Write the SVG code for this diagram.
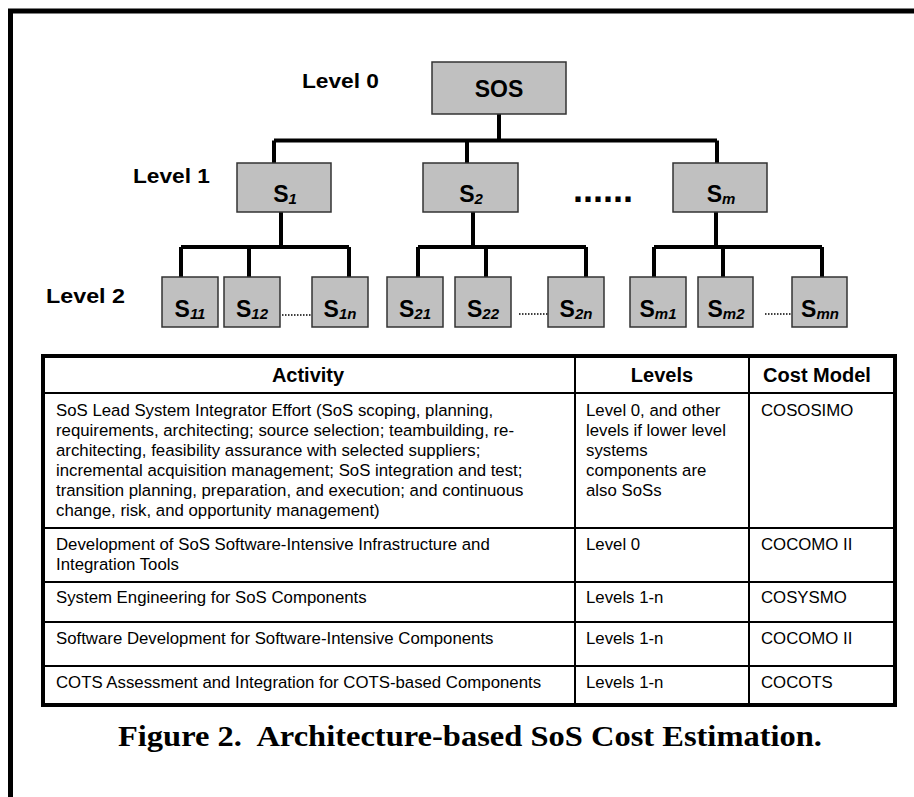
<svg xmlns="http://www.w3.org/2000/svg" width="914" height="797" viewBox="0 0 914 797">
  <style>
    .frame { fill: none; stroke: #000; stroke-width: 5; }
    .box { fill: #c0c0c0; stroke: #333; stroke-width: 1.5; }
    .wire { fill: none; stroke: #000; stroke-width: 4; stroke-linecap: butt; }
    .dots { fill: none; stroke: #000; stroke-width: 1.5; stroke-dasharray: 1.5 1.5; }
    .lvl { font-family: "Liberation Sans", Arial, sans-serif; font-weight: bold; font-size: 20px; fill: #000; }
    .node { font-family: "Liberation Sans", Arial, sans-serif; font-weight: bold; font-size: 23px; fill: #000; text-anchor: middle; }
    .sub { font-style: italic; font-size: 15px; }
    .grid { fill: none; stroke: #000; stroke-width: 2; }
    .outer { fill: none; stroke: #000; stroke-width: 4; }
    .th { font-family: "Liberation Sans", Arial, sans-serif; font-weight: bold; font-size: 20px; fill: #000; text-anchor: middle; }
    .td { font-family: "Liberation Sans", Arial, sans-serif; font-size: 16.8px; fill: #000; }
    .cap { font-family: "Liberation Serif", "Times New Roman", serif; font-weight: bold; font-size: 29px; fill: #000; }
  </style>

  <rect width="914" height="797" fill="#fff"/>
  <path class="frame" d="M10.5 797 V11 H914"/>

  <!-- level labels -->
  <text class="lvl" x="302" y="88" textLength="77" lengthAdjust="spacingAndGlyphs">Level 0</text>
  <text class="lvl" x="133" y="183" textLength="77" lengthAdjust="spacingAndGlyphs">Level 1</text>
  <text class="lvl" x="46" y="303" textLength="79" lengthAdjust="spacingAndGlyphs">Level 2</text>

  <!-- tree connectors -->
  <g id="connectors">
    <path class="wire" d="M499 114 V140.5 M274 140.5 H717 M274 140.5 V163 M467 140.5 V163 M717 140.5 V163"/>
    <path class="wire" d="M281 212 V247 M181 247 H349 M181 247 V277 M249 247 V277 M349 247 V277"/>
    <path class="wire" d="M473 212 V247 M418 247 H586 M418 247 V277 M486 247 V277 M586 247 V277"/>
    <path class="wire" d="M716 212 V247 M654 247 H822 M654 247 V277 M723 247 V277 M822 247 V277"/>
    <path class="dots" d="M282 315 H312 M519 314 H548 M765 314 H792"/>
  </g>

  <!-- level 0 -->
  <g id="sos">
    <rect class="box" x="432" y="62" width="134" height="52"/>
    <text class="node" x="499" y="97" font-size="26">SOS</text>
  </g>

  <!-- level 1 -->
  <g id="s1">
    <rect class="box" x="237" y="163" width="94" height="49"/>
    <text class="node" x="285" y="202">S<tspan class="sub" font-size="16" dy="2">1</tspan></text>
  </g>
  <g id="s2">
    <rect class="box" x="423" y="163" width="95" height="49"/>
    <text class="node" x="471" y="202">S<tspan class="sub" font-size="16" dy="2">2</tspan></text>
  </g>
  <text x="573" y="202" font-family="Liberation Sans, Arial, sans-serif" font-weight="bold" font-size="36">......</text>
  <g id="sm">
    <rect class="box" x="673" y="163" width="94" height="49"/>
    <text class="node" x="721" y="202">S<tspan class="sub" font-size="16" dy="2">m</tspan></text>
  </g>

  <!-- level 2 -->
  <g id="s11">
    <rect class="box" x="162" y="277" width="56" height="50"/>
    <text class="node" x="190" y="317">S<tspan class="sub" dy="2">11</tspan></text>
  </g>
  <g id="s12">
    <rect class="box" x="224" y="277" width="56" height="50"/>
    <text class="node" x="252" y="317">S<tspan class="sub" dy="2">12</tspan></text>
  </g>
  <g id="s1n">
    <rect class="box" x="312" y="277" width="56" height="50"/>
    <text class="node" x="340" y="317">S<tspan class="sub" dy="2">1n</tspan></text>
  </g>
  <g id="s21">
    <rect class="box" x="387" y="277" width="56" height="50"/>
    <text class="node" x="415" y="317">S<tspan class="sub" dy="2">21</tspan></text>
  </g>
  <g id="s22">
    <rect class="box" x="455" y="277" width="56" height="50"/>
    <text class="node" x="483" y="317">S<tspan class="sub" dy="2">22</tspan></text>
  </g>
  <g id="s2n">
    <rect class="box" x="548" y="277" width="56" height="50"/>
    <text class="node" x="576" y="317">S<tspan class="sub" dy="2">2n</tspan></text>
  </g>
  <g id="sm1">
    <rect class="box" x="630" y="277" width="56" height="50"/>
    <text class="node" x="658" y="317">S<tspan class="sub" dy="2">m1</tspan></text>
  </g>
  <g id="sm2">
    <rect class="box" x="698" y="277" width="55" height="50"/>
    <text class="node" x="726" y="317">S<tspan class="sub" dy="2">m2</tspan></text>
  </g>
  <g id="smn">
    <rect class="box" x="792" y="277" width="55" height="50"/>
    <text class="node" x="820" y="317">S<tspan class="sub" dy="2">mn</tspan></text>
  </g>

  <!-- cost table -->
  <g id="table">
    <path class="grid" d="M575 356 V705 M749 356 V705 M43 393 H895 M43 528 H895 M43 582 H895 M43 622 H895 M43 666 H895"/>
    <rect class="outer" x="43" y="356" width="852" height="349"/>

    <text class="th" x="308" y="382">Activity</text>
    <text class="th" x="662" y="382">Levels</text>
    <text class="th" x="817" y="382">Cost Model</text>

    <text class="td" x="56" y="416">SoS Lead System Integrator Effort (SoS scoping, planning,</text>
    <text class="td" x="56" y="436">requirements, architecting; source selection; teambuilding, re-</text>
    <text class="td" x="56" y="456">architecting, feasibility assurance with selected suppliers;</text>
    <text class="td" x="56" y="476">incremental acquisition management; SoS integration and test;</text>
    <text class="td" x="56" y="496">transition planning, preparation, and execution; and continuous</text>
    <text class="td" x="56" y="516">change, risk, and opportunity management)</text>
    <text class="td" x="586" y="416">Level 0, and other</text>
    <text class="td" x="586" y="436">levels if lower level</text>
    <text class="td" x="586" y="456">systems</text>
    <text class="td" x="586" y="476">components are</text>
    <text class="td" x="586" y="496">also SoSs</text>
    <text class="td" x="761" y="416">COSOSIMO</text>

    <text class="td" x="56" y="550">Development of SoS Software-Intensive Infrastructure and</text>
    <text class="td" x="56" y="570">Integration Tools</text>
    <text class="td" x="586" y="550">Level 0</text>
    <text class="td" x="761" y="550">COCOMO II</text>

    <text class="td" x="56" y="603">System Engineering for SoS Components</text>
    <text class="td" x="586" y="603">Levels 1-n</text>
    <text class="td" x="761" y="603">COSYSMO</text>

    <text class="td" x="56" y="644">Software Development for Software-Intensive Components</text>
    <text class="td" x="586" y="644">Levels 1-n</text>
    <text class="td" x="761" y="644">COCOMO II</text>

    <text class="td" x="56" y="688">COTS Assessment and Integration for COTS-based Components</text>
    <text class="td" x="586" y="688">Levels 1-n</text>
    <text class="td" x="761" y="688">COCOTS</text>
  </g>

  <text class="cap" x="118" y="746" textLength="704" lengthAdjust="spacingAndGlyphs" xml:space="preserve">Figure 2.  Architecture-based SoS Cost Estimation.</text>
</svg>
